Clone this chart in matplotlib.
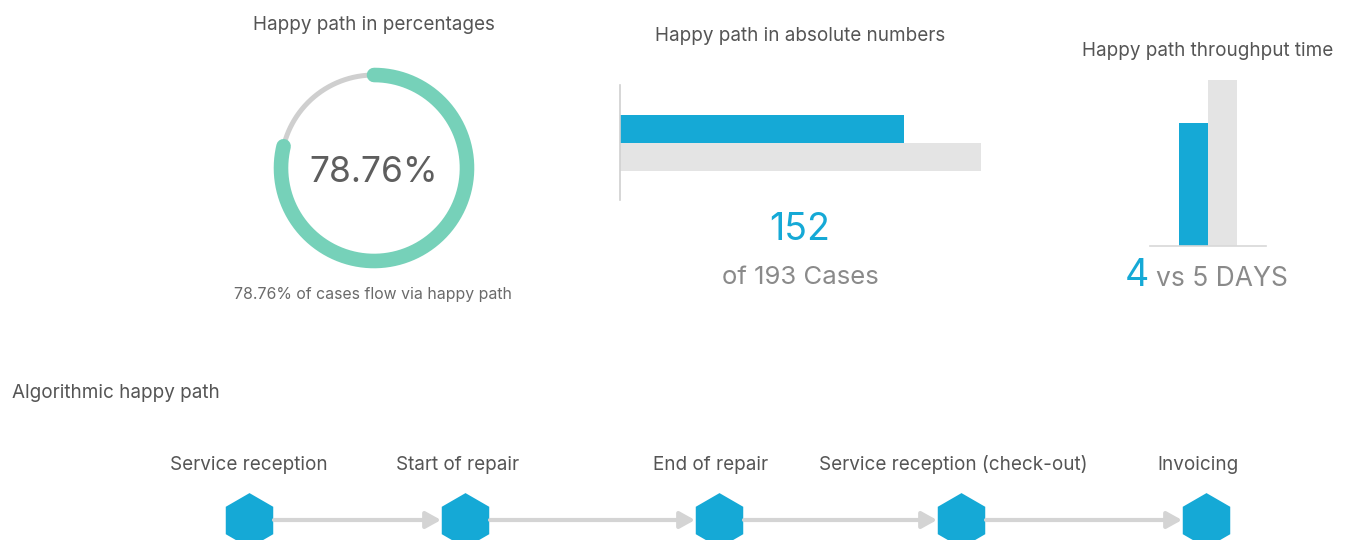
import numpy as np
import matplotlib
matplotlib.use("Agg")
import matplotlib.pyplot as plt

# ---------------- data ----------------
happy_pct = 78.76
happy_cases = 152
total_cases = 193
tp_labels = ["Happy path", "All cases"]
tp_days = [3.7, 5.0]
steps = ["Service reception", "Start of repair", "End of repair",
         "Service reception (check-out)", "Invoicing"]

# ---------------- style ----------------
W, H = 1353, 540
BLUE = "#15A9D6"
TEAL = "#76D1B9"
RING_GRAY = "#CFCFCF"
BAR_GRAY = "#E4E4E4"
TXT = "#555555"
TXT2 = "#8A8A8A"
FONT = ["Inter", "DejaVu Sans"]
plt.rcParams["font.family"] = FONT
LBL = 13.6

fig = plt.figure(figsize=(W / 100, H / 100), dpi=100)
fig.patch.set_facecolor("white")


def px_axes(x0, y0, x1, y1):
    """axes from pixel box (top-left origin)"""
    return fig.add_axes([x0 / W, 1 - y1 / H, (x1 - x0) / W, (y1 - y0) / H])


def ftext(x, y, s, **kw):
    fig.text(x / W, 1 - y / H, s, **kw)


# ---------------- donut ----------------
ax = px_axes(254, 48, 494, 288)
ax.set_xlim(-1.2, 1.2)
ax.set_ylim(-1.2, 1.2)
ax.set_aspect("equal")
ax.axis("off")
r = 0.93
t = np.linspace(0, 2 * np.pi, 400)
ax.plot(r * np.cos(t), r * np.sin(t), color=RING_GRAY, lw=3.6)
ang = np.linspace(np.pi / 2, np.pi / 2 - 2 * np.pi * happy_pct / 100, 400)
ax.plot(r * np.cos(ang), r * np.sin(ang), color=TEAL, lw=10.5,
        solid_capstyle="round")
ax.text(0, -0.04, f"{happy_pct:.2f}%", ha="center", va="center",
        fontsize=25.4, color="#5E5E5E")
ftext(374, 25, "Happy path in percentages", ha="center", va="center",
      fontsize=LBL, color=TXT)
ftext(373, 295, f"{happy_pct:.2f}% of cases flow via happy path",
      ha="center", va="center", fontsize=11.4, color="#6A6A6A")

# ---------------- absolute numbers ----------------
ax2 = px_axes(620, 85, 981, 200)
ax2.barh([1, 0], [happy_cases, total_cases], height=0.98,
         color=[BLUE, BAR_GRAY])
ax2.set_xlim(0, total_cases)
ax2.set_ylim(-1.49, 2.54)
for s in ["top", "right", "bottom"]:
    ax2.spines[s].set_visible(False)
ax2.spines["left"].set_color("#D0D0D0")
ax2.spines["left"].set_linewidth(1.2)
ax2.set_xticks([])
ax2.set_yticks([])
ax2.patch.set_alpha(0)
ftext(800, 36, "Happy path in absolute numbers", ha="center", va="center",
      fontsize=LBL, color=TXT)
ftext(800, 230, f"{happy_cases}", ha="center", va="center",
      fontsize=27, color=BLUE)
ftext(800, 277, f"of {total_cases} Cases", ha="center", va="center",
      fontsize=18.5, color=TXT2)

# ---------------- throughput ----------------
ax3 = px_axes(1150, 60, 1266, 246)
ax3.bar([0, 1], tp_days, width=1.0, color=[BLUE, BAR_GRAY])
ax3.set_xlim(-1.5, 2.5)
ax3.set_ylim(0, tp_days[1] * 186 / 166)
for s in ["top", "right", "left"]:
    ax3.spines[s].set_visible(False)
ax3.spines["bottom"].set_color("#D8D8D8")
ax3.spines["bottom"].set_linewidth(1.2)
ax3.set_xticks([])
ax3.set_yticks([])
ax3.patch.set_alpha(0)
ftext(1208, 51, "Happy path throughput time", ha="center", va="center",
      fontsize=LBL, color=TXT)
ftext(1149, 276, f"{round(tp_days[0])}", ha="right", va="center",
      fontsize=27, color=BLUE)
ftext(1156, 279, f"vs {round(tp_days[1])} DAYS", ha="left", va="center",
      fontsize=19, color=TXT2)

# ---------------- process ----------------
ftext(12, 393, "Algorithmic happy path", ha="left", va="center",
      fontsize=LBL, color=TXT)
ax4 = px_axes(0, 440, W, H)
ax4.set_xlim(0, W)
ax4.set_ylim(H, 440)
ax4.axis("off")
node_x = [249, 465, 719, 961, 1206]
label_dx = [0, -7, -8, -8, -8]
node_y = 520
for i in range(len(steps) - 1):
    ax4.annotate("", xy=(node_x[i + 1] - 24, node_y),
                 xytext=(node_x[i] + 25, node_y),
                 arrowprops=dict(arrowstyle="-|>,head_length=0.9,head_width=0.5",
                                 color="#D4D4D4", lw=3, shrinkA=0, shrinkB=0))
ax4.plot(node_x, [node_y] * len(node_x), linestyle="none", marker="h",
         markersize=36, color=BLUE, markeredgecolor=BLUE,
         markeredgewidth=3, clip_on=False)
for x, dx, s in zip(node_x, label_dx, steps):
    ax4.text(x + dx, 465, s, ha="center", va="center", fontsize=LBL, color=TXT)

fig.savefig("out.png", dpi=100, facecolor="white")
